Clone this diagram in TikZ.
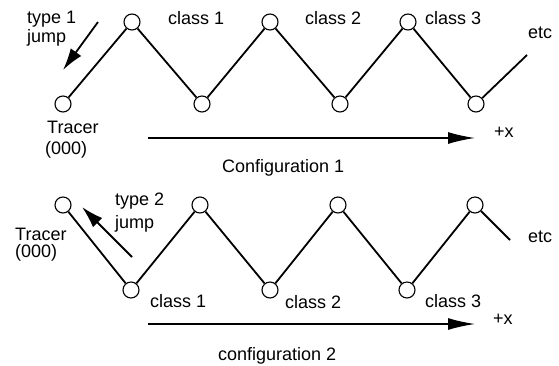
\documentclass[tikz,border=0pt]{standalone}
\usepackage{fontspec}
\setmainfont{Liberation Sans}
\usetikzlibrary{arrows.meta}
\begin{document}
\begin{tikzpicture}[x=1pt,y=-1pt,
  site/.style={circle,draw,line width=1.1pt,minimum size=16pt,inner sep=0pt,fill=white},
  bond/.style={line width=1.8pt},
  lbl/.style={font=\fontsize{18}{21}\selectfont,inner sep=0pt,anchor=base west},
  jumparrow/.style={line width=1.8pt,-{Latex[length=22pt,width=13pt]}},
  axisarrow/.style={line width=1.5pt,-{Latex[length=27pt,width=12pt]}}]
\useasboundingbox (0,0) rectangle (559,365);

% configuration 1: tracer in a valley
\node[site] (t0) at (63,104) {};
\node[site] (p1) at (132,22) {};
\node[site] (b1) at (202,104) {};
\node[site] (p2) at (270,22) {};
\node[site] (b2) at (340,104) {};
\node[site] (p3) at (408,22) {};
\node[site] (b3) at (476,104) {};
\coordinate (e1) at (527,55);
\draw[bond] (t0) -- (p1) -- (b1) -- (p2) -- (b2) -- (p3) -- (b3) -- (e1);

\node[lbl] (ty1) at (27,23) {type 1};
\node[lbl] (jm1) at (27,42) {jump};
\coordinate (j1s) at (98,22);
\coordinate (j1e) at (63,70);
\draw[jumparrow] (j1s) -- (j1e);

\node[lbl] (tr1) at (47,133) {Tracer};
\node[lbl] (or1) at (45,154) {(000)};
\node[lbl] (cl11) at (168,24) {class 1};
\node[lbl] (cl12) at (305,24) {class 2};
\node[lbl] (cl13) at (425,24) {class 3};
\node[lbl] (etc1) at (528,38) {etc};

\coordinate (a1s) at (148,138);
\coordinate (a1e) at (475,138);
\draw[axisarrow] (a1s) -- (a1e);
\node[lbl] (px1) at (494,137) {+x};
\node[lbl] (cf1) at (222,172) {Configuration 1};

% configuration 2: tracer on a peak
\node[site] (u0) at (63,205) {};
\node[site] (c1) at (131,290) {};
\node[site] (q1) at (200,205) {};
\node[site] (c2) at (270,290) {};
\node[site] (q2) at (338,205) {};
\node[site] (c3) at (407,290) {};
\node[site] (q3) at (475,205) {};
\coordinate (e2) at (510,240);
\draw[bond] (u0) -- (c1) -- (q1) -- (c2) -- (q2) -- (c3) -- (q3) -- (e2);

\node[lbl] (ty2) at (115,205) {type 2};
\node[lbl] (jm2) at (115,228) {jump};
\coordinate (j2s) at (132,257);
\coordinate (j2e) at (82,207);
\draw[jumparrow] (j2s) -- (j2e);

\node[lbl] (tr2) at (15,240) {Tracer};
\node[lbl] (or2) at (15,257) {(000)};
\node[lbl] (cl21) at (150,307) {class 1};
\node[lbl] (cl22) at (285,308) {class 2};
\node[lbl] (cl23) at (425,307) {class 3};
\node[lbl] (etc2) at (528,242) {etc};

\coordinate (a2s) at (148,324);
\coordinate (a2e) at (475,324);
\draw[axisarrow] (a2s) -- (a2e);
\node[lbl] (px2) at (493,324) {+x};
\node[lbl] (cf2) at (218,360) {configuration 2};
\end{tikzpicture}
\end{document}
